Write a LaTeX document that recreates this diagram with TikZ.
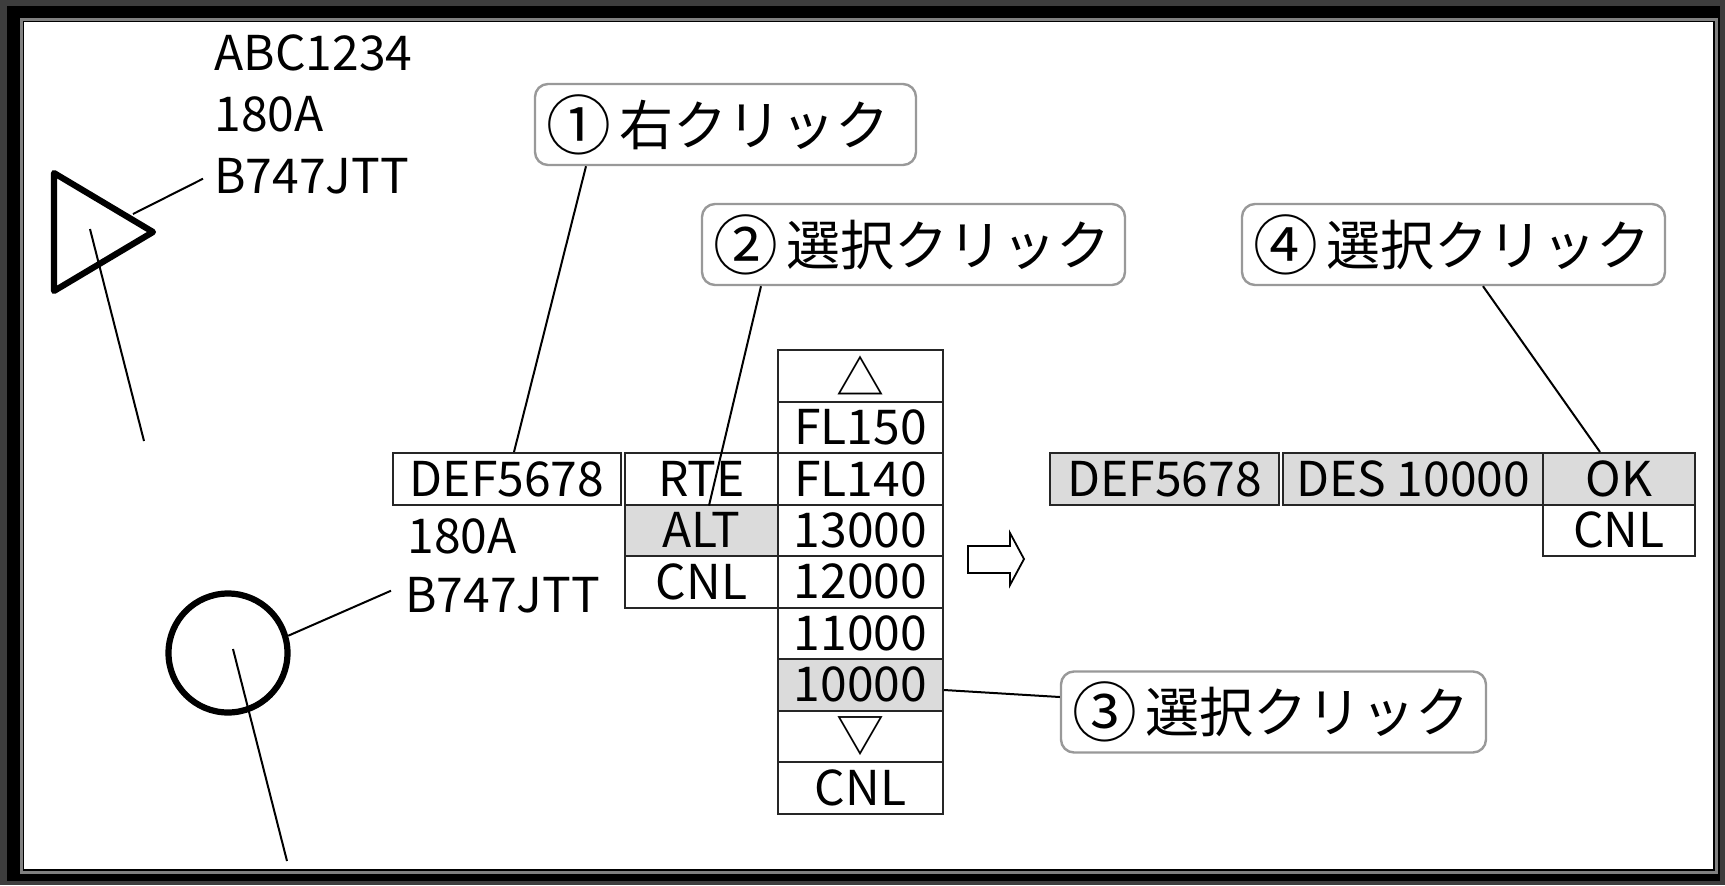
\documentclass[tikz,border=0pt]{standalone}
\usepackage{fontspec}
\setmainfont{Noto Sans CJK JP}
\usetikzlibrary{calc}
\newcommand{\circnum}[1]{\raisebox{-0.075em}{\scalebox{1.2}{#1}}\hspace{0.16em}}
\begin{document}
\begin{tikzpicture}[x=0.5pt,y=-0.5pt,
  tagfont/.style={font=\fontsize{24pt}{28pt}\selectfont},
  lbl/.style={tagfont, inner sep=0pt, anchor=base west},
  cell/.style={draw=black!85, line width=1pt, tagfont, inner sep=0pt, minimum height=25.75pt},
  graycell/.style={cell, fill=black!14},
  altcell/.style={cell, minimum width=82.5pt},
  menucell/.style={cell, minimum width=76.5pt},
  callout/.style={draw=black!40, fill=white, line width=1.2pt, rounded corners=6.5pt,
    font=\fontsize{27pt}{32pt}\selectfont, minimum height=40.5pt, inner ysep=0pt,
    inner xsep=5.5pt, align=left},
  leader/.style={line width=1pt},
  acft/.style={line width=3.1pt}]
% frame
\fill[black!76] (0,0) rectangle (1725,885);
\fill[black] (7,6) rectangle (1720,881);
\draw[black!50, line width=1.5pt] (21,19) rectangle (1716,872);
\fill[white] (24,22) rectangle (1713,869);
\useasboundingbox (0,0) rectangle (1725,885);

% aircraft 1 (triangle)
\coordinate (tA) at (54,173);
\coordinate (tB) at (153,232);
\coordinate (tC) at (54,291);
\draw[acft, line join=round] (tA) -- (tB) -- (tC) -- cycle;
\node[lbl] (u1) at (214,70) {ABC1234};
\node[lbl] (u2) at (214,131) {180A};
\node[lbl] (u3) at (214,193) {B747JTT};
\coordinate (v1a) at (90,229);
\coordinate (v1b) at (144,441);
\draw[leader] (v1a) -- (v1b);
\coordinate (t1lead) at (133,214);
\draw[leader] (t1lead) -- ($(u3.west)+(-11,3)$);

% aircraft 2 (circle)
\node[circle, draw, acft, minimum size=59.5pt, inner sep=0pt] (ac2) at (228,653) {};
\node[lbl] (l2) at (407,553) {180A};
\node[lbl] (l3) at (405,612) {B747JTT};
\coordinate (v2a) at (233,649);
\coordinate (v2b) at (287,861);
\draw[leader] (v2a) -- (v2b);
\draw[leader] (ac2.16) -- ($(l3.west)+(-14,-4)$);

% data tag
\node[cell, minimum width=114pt] (t1) at (507,478.75) {DEF5678\hspace{8pt}};
% menu column
\node[menucell] (m1) at (701.5,478.75) {RTE};
\node[menucell, fill=black!14] (m2) at (701.5,530.25) {ALT};
\node[menucell] (m3) at (701.5,581.75) {CNL};
% altitude column
\node[altcell] (a0) at (860.5,375.75) {△};
\node[altcell] (a1) at (860.5,427.25) {FL150};
\node[altcell] (a2) at (860.5,478.75) {FL140};
\node[altcell] (a3) at (860.5,530.25) {13000};
\node[altcell] (a4) at (860.5,581.75) {12000};
\node[altcell] (a5) at (860.5,633.25) {11000};
\node[altcell, fill=black!14] (a6) at (860.5,684.75) {10000};
\node[altcell] (a7) at (860.5,736.25) {▽};
\node[altcell] (a8) at (860.5,787.75) {CNL};

% hollow arrow
\draw[line width=0.9pt, line join=miter] (968,546) -- (1010,546) -- (1010,533) -- (1024,559)
  -- (1010,585) -- (1010,573) -- (968,573) -- cycle;

% result tag
\node[graycell, minimum width=114.5pt] (r1) at (1164.5,478.75) {DEF5678\hspace{8pt}};
\node[graycell, minimum width=130pt] (r2) at (1413,478.75) {DES 10000};
\node[graycell, minimum width=76pt] (r3) at (1619,478.75) {OK};
\node[cell, minimum width=76pt] (r4) at (1619,530.25) {CNL};

% callouts
\node[callout, text width=179.5pt] (c1) at (725.5,124.5) {\mbox{\circnum{①}右クリック}};
\node[callout, text width=200.5pt] (c2) at (913.5,244.5) {\mbox{\circnum{②}選択クリック}};
\node[callout, text width=201.5pt] (c3) at (1273.5,712) {\mbox{\circnum{③}選択クリック}};
\node[callout, text width=200.5pt] (c4) at (1453.5,244.5) {\mbox{\circnum{④}選択クリック}};

% leaders
\coordinate (x1a) at (586,0);
\coordinate (x1b) at (514,0);
\coordinate (x2a) at (761,0);
\coordinate (x2b) at (709,0);
\coordinate (x4a) at (1483,0);
\coordinate (x4b) at (1600,0);
\coordinate (y3a) at (0,690);
\coordinate (y3b) at (0,697);
\draw[leader] (c1.south -| x1a) -- (t1.north -| x1b);
\draw[leader] (c2.south -| x2a) -- (m1.south -| x2b);
\draw[leader] (a6.east |- y3a) -- (c3.west |- y3b);
\draw[leader] (c4.south -| x4a) -- (r3.north -| x4b);
\end{tikzpicture}
\end{document}
